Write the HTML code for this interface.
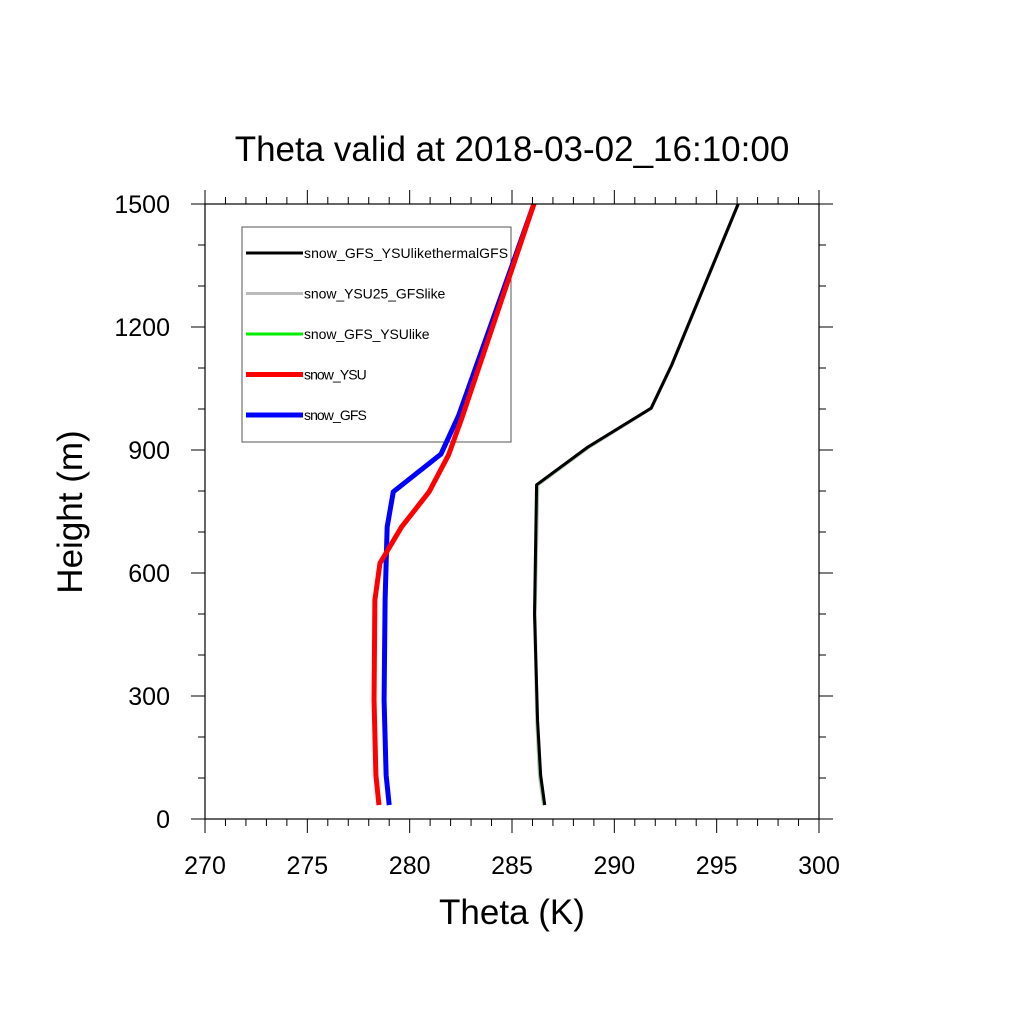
<!DOCTYPE html>
<html><head><meta charset="utf-8"><style>body{margin:0;background:#fff}svg{display:block;font-family:"Liberation Sans",sans-serif}</style></head>
<body>
<svg id="chart" width="1024" height="1024" viewBox="0 0 1024 1024">
<text x="512" y="161" font-size="35" text-anchor="middle">Theta valid at 2018-03-02_16:10:00</text>
<g id="ticks"></g>
<g id="legend"></g>
<g id="series"></g>
<rect x="205" y="204" width="614" height="615" fill="none" stroke="#000" stroke-width="1.2"/>
<text x="512" y="924" font-size="35" text-anchor="middle">Theta (K)</text>
<text transform="translate(82,512) rotate(-90)" font-size="35" text-anchor="middle">Height (m)</text>
</svg>
<script>
const xTicks=[270,275,280,285,290,295,300];
const yTicks=[0,300,600,900,1200,1500];
const seriesNames=["snow_GFS_YSUlikethermalGFS","snow_YSU25_GFSlike","snow_GFS_YSUlike","snow_YSU","snow_GFS"];
const blackH=[34,107,240,500,815,907,1002,1107,1500];
const blackT=[286.6,286.4,286.25,286.1,286.2,288.7,291.8,292.8,296.05];
const greyH=[34,107,240,500,815,907,1002,1107,1500];
const greyT=[286.55,286.35,286.22,286.12,286.25,288.75,291.8,292.8,296.05];
const greenH=[34,107,240,500,815,907,1002,1107,1500];
const greenT=[286.58,286.38,286.24,286.11,286.22,288.72,291.8,292.8,296.05];
const redH=[34,107,290,534,624,712,798,888,978,1500];
const redT=[278.5,278.35,278.26,278.3,278.55,279.6,280.95,281.9,282.55,286.07];
const blueH=[34,107,290,534,712,798,890,985,1500];
const blueT=[279.0,278.85,278.75,278.8,278.9,279.2,281.53,282.4,286.07];

const NS="http://www.w3.org/2000/svg";
const X=k=>205+(k-270)*(614/30);
const Y=h=>819-h*(615/1500);
function mk(tag,attrs,parent){const e=document.createElementNS(NS,tag);for(const k in attrs)e.setAttribute(k,attrs[k]);parent.appendChild(e);return e;}
const tg=document.getElementById('ticks');
for(let k=270;k<=300;k++){const x=X(k);const L=(k%5===0)?14:7;
 let t=mk('line',{x1:x,x2:x,y1:819,y2:819+L,stroke:'#000','stroke-width':1},tg);
 
 t=mk('line',{x1:x,x2:x,y1:204,y2:204-L,stroke:'#000','stroke-width':1},tg);
 }
for(let h=0;h<=1500;h+=100){const y=Y(h);const L=(h%300===0)?14:7;
 let t=mk('line',{x1:205,x2:205-L,y1:y,y2:y,stroke:'#000','stroke-width':1},tg);
 
 t=mk('line',{x1:819,x2:819+L,y1:y,y2:y,stroke:'#000','stroke-width':1},tg);
 }
xTicks.forEach(k=>{const t=mk('text',{x:X(k),y:874,'font-size':25,'text-anchor':'middle'},tg);t.textContent=k;
 });
yTicks.forEach(h=>{const t=mk('text',{x:170,y:Y(h)+9,'font-size':25,'text-anchor':'end'},tg);t.textContent=h;
 });
const sg=document.getElementById('series');
const defs=[[greyT,greyH,'#bbbbbb',3.5,'line-ysu25-gfslike'],[greenT,greenH,'#00ee00',2.5,'line-gfs-ysulike'],[blackT,blackH,'#000',3,'line-gfs-ysulikethermalgfs'],[blueT,blueH,'#0000ff',5,'line-gfs'],[redT,redH,'#ff0000',5,'line-ysu']];
defs.forEach(d=>{const pts=d[0].map((t,i)=>X(t)+','+Y(d[1][i])).join(' ');
 const p=mk('polyline',{points:pts,fill:'none',stroke:d[2],'stroke-width':d[3],'stroke-linejoin':'round'},sg);
 });
const lg=document.getElementById('legend');
const box=mk('rect',{x:242,y:227,width:269,height:215,fill:'none',stroke:'#555','stroke-width':1},lg);

const lc=['#000','#bbbbbb','#00ee00','#ff0000','#0000ff'],lw=[3,3,3,5,5];
seriesNames.forEach((n,i)=>{const y=253+i*40.5;
 const l=mk('line',{x1:246,x2:303,y1:y,y2:y,stroke:lc[i],'stroke-width':lw[i]},lg);
 
 const t=mk('text',{x:304,y:y+5,'font-size':14,textLength:n.length*7.85},lg);t.textContent=n;
 });
</script>
</body></html>
